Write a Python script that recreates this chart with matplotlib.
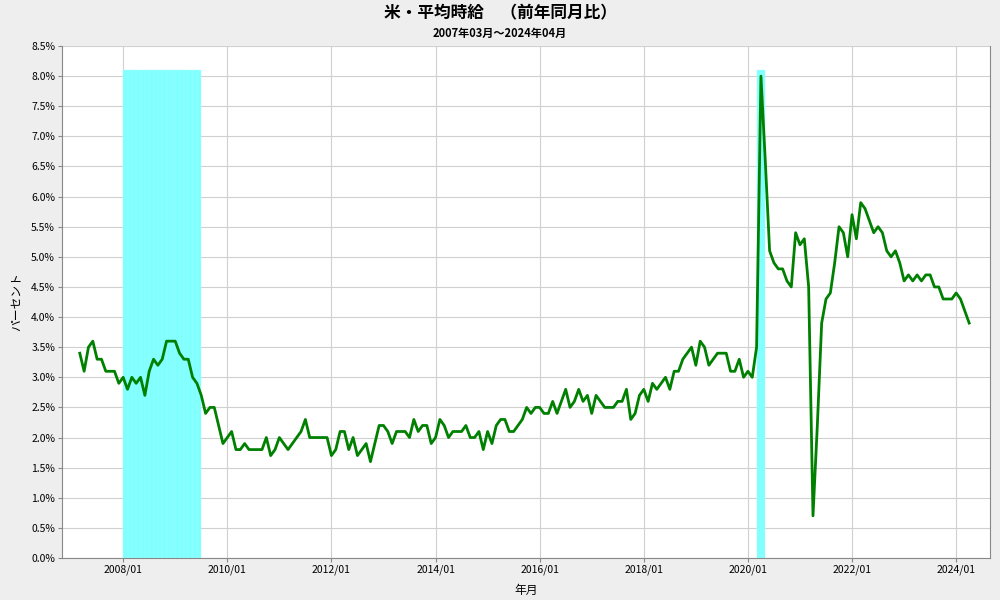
import matplotlib
matplotlib.use("Agg")
import matplotlib.pyplot as plt
import numpy as np

plt.rcParams['font.family'] = ['Noto Sans CJK JP', 'DejaVu Sans']

# US average hourly earnings, YoY %, monthly from 2007/03 to 2024/04
start_year, start_month = 2007, 3
hourly_wage_yoy = [
    3.4, 3.1, 3.5, 3.6, 3.3, 3.3, 3.1, 3.1, 3.1, 2.9,                # 2007
    3.0, 2.8, 3.0, 2.9, 3.0, 2.7, 3.1, 3.3, 3.2, 3.3, 3.6, 3.6,      # 2008
    3.6, 3.4, 3.3, 3.3, 3.0, 2.9, 2.7, 2.4, 2.5, 2.5, 2.2, 1.9,      # 2009
    2.0, 2.1, 1.8, 1.8, 1.9, 1.8, 1.8, 1.8, 1.8, 2.0, 1.7, 1.8,      # 2010
    2.0, 1.9, 1.8, 1.9, 2.0, 2.1, 2.3, 2.0, 2.0, 2.0, 2.0, 2.0,      # 2011
    1.7, 1.8, 2.1, 2.1, 1.8, 2.0, 1.7, 1.8, 1.9, 1.6, 1.9, 2.2,      # 2012
    2.2, 2.1, 1.9, 2.1, 2.1, 2.1, 2.0, 2.3, 2.1, 2.2, 2.2, 1.9,      # 2013
    2.0, 2.3, 2.2, 2.0, 2.1, 2.1, 2.1, 2.2, 2.0, 2.0, 2.1, 1.8,      # 2014
    2.1, 1.9, 2.2, 2.3, 2.3, 2.1, 2.1, 2.2, 2.3, 2.5, 2.4, 2.5,      # 2015
    2.5, 2.4, 2.4, 2.6, 2.4, 2.6, 2.8, 2.5, 2.6, 2.8, 2.6, 2.7,      # 2016
    2.4, 2.7, 2.6, 2.5, 2.5, 2.5, 2.6, 2.6, 2.8, 2.3, 2.4, 2.7,      # 2017
    2.8, 2.6, 2.9, 2.8, 2.9, 3.0, 2.8, 3.1, 3.1, 3.3, 3.4, 3.5,      # 2018
    3.2, 3.6, 3.5, 3.2, 3.3, 3.4, 3.4, 3.4, 3.1, 3.1, 3.3, 3.0,      # 2019
    3.1, 3.0, 3.5, 8.0, 6.6, 5.1, 4.9, 4.8, 4.8, 4.6, 4.5, 5.4,      # 2020
    5.2, 5.3, 4.5, 0.7, 2.2, 3.9, 4.3, 4.4, 4.9, 5.5, 5.4, 5.0,      # 2021
    5.7, 5.3, 5.9, 5.8, 5.6, 5.4, 5.5, 5.4, 5.1, 5.0, 5.1, 4.9,      # 2022
    4.6, 4.7, 4.6, 4.7, 4.6, 4.7, 4.7, 4.5, 4.5, 4.3, 4.3, 4.3,      # 2023
    4.4, 4.3, 4.1, 3.9,                                              # 2024
]

# recession months (shaded)
recession_months = ["2008/01", "2008/02", "2008/03", "2008/04", "2008/05", "2008/06",
                    "2008/07", "2008/08", "2008/09", "2008/10", "2008/11", "2008/12",
                    "2009/01", "2009/02", "2009/03", "2009/04", "2009/05", "2009/06",
                    "2020/03", "2020/04"]
recession_height = 8.1

tick_labels = ["2008/01", "2010/01", "2012/01", "2014/01", "2016/01",
               "2018/01", "2020/01", "2022/01", "2024/01"]


def month_index(label):
    y, m = label.split("/")
    return (int(y) - start_year) * 12 + int(m) - start_month


x = np.arange(len(hourly_wage_yoy))

fig = plt.figure(figsize=(10, 6), dpi=100, facecolor="#eeeeee")
ax = fig.add_axes([0.062, 0.07, 0.928, 0.8533])
ax.set_facecolor("white")

rec_x = [month_index(m) for m in recession_months]
ax.bar(rec_x, [recession_height] * len(rec_x), width=1, align="edge",
       color="#80ffff", edgecolor="#a8ffff", linewidth=0.25, zorder=1)

ax.plot(x, hourly_wage_yoy, color="#008000", linewidth=2, zorder=3)

ax.set_xlim(-4.1, 209.8)
ax.set_ylim(0, 8.5)
ax.set_yticks(np.arange(0, 8.51, 0.5))
ax.set_yticklabels(["%.1f%%" % v for v in np.arange(0, 8.51, 0.5)], fontsize=7.5)
ax.set_xticks([month_index(t) for t in tick_labels])
ax.set_xticklabels(tick_labels, fontsize=7.5)
ax.tick_params(length=3, color="#888888", pad=2)

ax.grid(True, color="#d0d0d0", linewidth=0.8, zorder=0)
ax.set_axisbelow(True)
ax.spines["top"].set_visible(False)
for side in ["left", "bottom", "right"]:
    ax.spines[side].set_color("#888888")

ax.set_ylabel("パーセント", fontsize=8.5, labelpad=6)
ax.set_xlabel("年月", fontsize=8.5, labelpad=6)

fig.text(0.5, 0.978, "米・平均時給　（前年同月比）", ha="center", va="center",
         fontsize=12, fontweight="bold")
fig.text(0.5, 0.945, "2007年03月～2024年04月", ha="center", va="center",
         fontsize=8, fontweight="bold")

fig.savefig("out.png", dpi=100, facecolor=fig.get_facecolor())
